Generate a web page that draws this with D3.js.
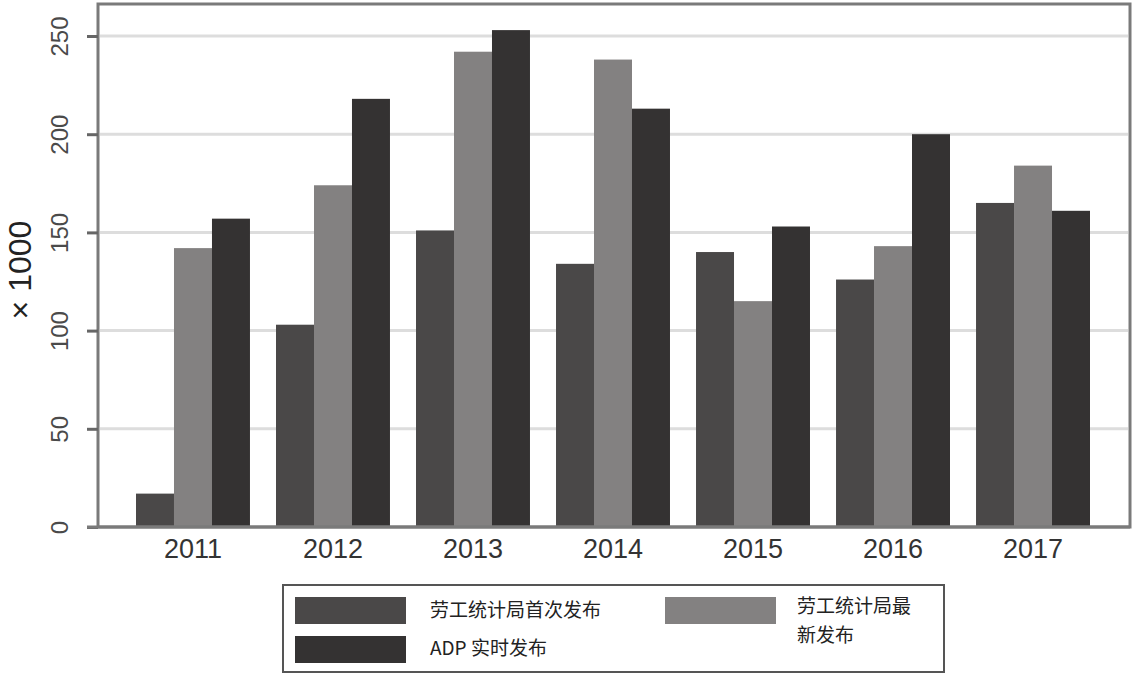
<!DOCTYPE html>
<html><head><meta charset="utf-8">
<script src="https://cdn.jsdelivr.net/npm/d3@7/dist/d3.min.js"></script>
<style>body{margin:0;background:#fff;}</style>
</head><body>
<svg id="c" width="1136" height="677"></svg>
<script>
const years = ["2011","2012","2013","2014","2015","2016","2017"];
const blsFirst = [17,103,151,134,140,126,165];
const blsLatest = [142,174,242,238,115,143,184];
const adpRealtime = [157,218,253,213,153,200,161];
const yTicks = [0,50,100,150,200,250];
const seriesNames = ["劳工统计局首次发布","劳工统计局最新发布","ADP 实时发布"];
const colors = ["#4a4848","#838181","#343232"];

const svg = d3.select("#c");
const L=98,R=1130,T=4,B=527;
const x0 = d3.scaleBand().domain(years).range([136,1090]).paddingInner(0.186).paddingOuter(0);
const x1 = d3.scaleBand().domain([0,1,2]).range([0,x0.bandwidth()]);
const y = d3.scaleLinear().domain([0,250]).range([B,36]);
const sans = "Liberation Sans, Arial, sans-serif";

// grid
svg.append("g").selectAll("line").data(yTicks.slice(1)).join("line")
 .attr("x1",L+2).attr("x2",R-2).attr("y1",d=>y(d)).attr("y2",d=>y(d))
 .attr("stroke","#dddddd").attr("stroke-width",3);

const series=[blsFirst,blsLatest,adpRealtime];
const g=svg.append("g");
years.forEach((yr,i)=>{
  series.forEach((s,j)=>{
    g.append("rect").attr("x",x0(yr)+x1(j)).attr("width",x1.bandwidth())
     .attr("y",y(s[i])).attr("height",B-y(s[i])).attr("fill",colors[j]);
  });
});

// frame
svg.append("rect").attr("x",L).attr("y",T).attr("width",R-L).attr("height",B-T)
 .attr("fill","none").attr("stroke","#7a7a7a").attr("stroke-width",3);

// y axis
const ya=svg.append("g").attr("transform",`translate(${L},0)`).call(d3.axisLeft(y).tickValues(yTicks).tickSize(11).tickPadding(0).tickFormat(d3.format("d")));
ya.select(".domain").remove();
ya.selectAll("line").attr("stroke","#666").attr("stroke-width",3);
ya.selectAll("text").attr("transform","rotate(-90)").attr("x",0).attr("y",-38).attr("dy","0.35em")
 .attr("text-anchor","middle").style("font-family",sans).style("font-size","24px").attr("fill","#4a4a4a");

// x axis
const xa=svg.append("g").attr("transform",`translate(0,${B})`).call(d3.axisBottom(x0).tickSize(0).tickPadding(12));
xa.select(".domain").remove();
xa.selectAll("text").attr("y",22).attr("dy","0.35em").style("font-family",sans).style("font-size","27px").attr("fill","#333");
svg.append("line").attr("x1",87).attr("x2",R).attr("y1",B).attr("y2",B).attr("stroke","#7a7a7a").attr("stroke-width",3);

// y title
svg.append("text").attr("transform","translate(20,270) rotate(-90)").attr("text-anchor","middle").attr("dy","0.35em")
 .style("font-family",sans).style("font-size","32px").attr("fill","#222").text("× 1000");

// legend
const lg=svg.append("g");
lg.append("rect").attr("x",283).attr("y",585).attr("width",661).attr("height",87).attr("fill","#fff").attr("stroke","#555").attr("stroke-width",2);
const lf="Noto Sans CJK SC, sans-serif";
const items=[{i:0,sx:295,sy:597,tx:430,ty:610,lines:["劳工统计局首次发布"]},
 {i:2,sx:295,sy:636,tx:430,ty:648,lines:["ADP 实时发布"]},
 {i:1,sx:665,sy:597,tx:797,ty:606,lines:["劳工统计局最","新发布"]}];
items.forEach(it=>{
  lg.append("rect").attr("x",it.sx).attr("y",it.sy).attr("width",111).attr("height",27).attr("fill",colors[it.i]);
  const t=lg.append("text").attr("y",it.ty).style("font-family",lf).style("font-size","19px").attr("fill","#222");
  it.lines.forEach((ln,k)=>t.append("tspan").attr("x",it.tx).attr("dy",k===0?"0.35em":"1.55em").text(ln));
});
</script>
</body></html>
